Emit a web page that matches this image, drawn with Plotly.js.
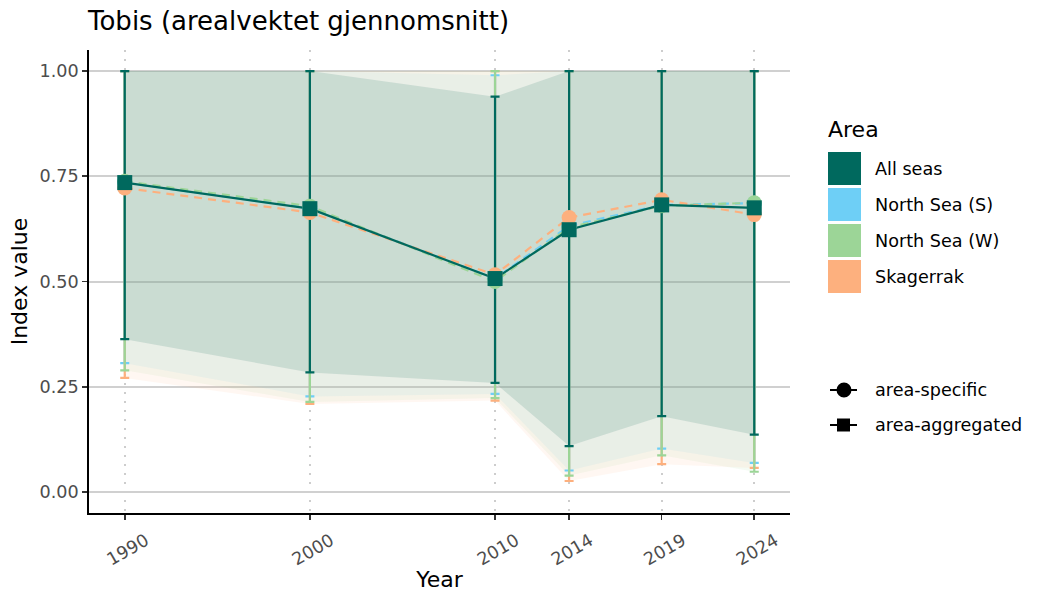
<!DOCTYPE html>
<html>
<head>
<meta charset="utf-8">
<script src="https://cdn.plot.ly/plotly-3.0.1.min.js"></script>
<style>html,body{margin:0;padding:0;background:#fff;}#chart{width:1050px;height:600px;}</style>
</head>
<body>
<div id="chart"></div>
<script>
// ---- Data ----
const years = [1990, 2000, 2010, 2014, 2019, 2024];
const xTickText = ['1990', '2000', '2010', '2014', '2019', '2024'];
const yTickVals = [0, 0.25, 0.5, 0.75, 1];
const yTickText = ['0.00', '0.25', '0.50', '0.75', '1.00'];

const areaNames = ['All seas', 'North Sea (S)', 'North Sea (W)', 'Skagerrak'];
const shapeNames = ['area-specific', 'area-aggregated'];

const allVal = [0.735, 0.673, 0.507, 0.623, 0.682, 0.675];
const allLo  = [0.363, 0.284, 0.259, 0.109, 0.180, 0.136];
const allHi  = [1.000, 1.000, 0.939, 1.000, 1.000, 1.000];

const sVal = [0.735, 0.674, 0.507, 0.632, 0.682, 0.686];
const sLo  = [0.306, 0.227, 0.233, 0.051, 0.103, 0.069];
const sHi  = [1.000, 1.000, 0.990, 1.000, 1.000, 1.000];

const wVal = [0.738, 0.679, 0.500, 0.628, 0.680, 0.687];
const wLo  = [0.289, 0.214, 0.223, 0.039, 0.087, 0.048];
const wHi  = [1.000, 1.000, 1.000, 1.000, 1.000, 1.000];

const kVal = [0.722, 0.664, 0.516, 0.652, 0.694, 0.659];
const kLo  = [0.271, 0.209, 0.217, 0.026, 0.066, 0.057];
const kHi  = [1.000, 1.000, 1.000, 1.000, 1.000, 1.000];

// ---- Styles ----
const COL = {all: '#00695E', s: '#6ECFF6', w: '#9CD597', k: '#FDB07E'};
const FILL = {all: 'rgba(0,100,94,0.17)', s: 'rgba(110,207,246,0.10)', w: 'rgba(156,213,151,0.10)', k: 'rgba(253,176,126,0.10)'};
const FONT = 'DejaVu Sans';

const series = {
  all: {val: allVal, lo: allLo, hi: allHi},
  s: {val: sVal, lo: sLo, hi: sHi},
  w: {val: wVal, lo: wLo, hi: wHi},
  k: {val: kVal, lo: kLo, hi: kHi}
};

const traces = [];
// ribbons
['all', 's', 'w', 'k'].forEach(key => {
  const d = series[key];
  traces.push({x: years, y: d.lo, mode: 'lines', line: {width: 0, color: COL[key]}, showlegend: false, hoverinfo: 'skip'});
  traces.push({x: years, y: d.hi, mode: 'lines', line: {width: 0, color: COL[key]}, fill: 'tonexty', fillcolor: FILL[key], showlegend: false, hoverinfo: 'skip'});
});
// error bars
['s', 'k', 'w', 'all'].forEach(key => {
  const d = series[key];
  traces.push({
    x: years, y: d.val, mode: 'markers', marker: {size: 1, color: 'rgba(0,0,0,0)'},
    showlegend: false, hoverinfo: 'skip',
    error_y: {type: 'data', symmetric: false,
      array: d.hi.map((h, i) => h - d.val[i]),
      arrayminus: d.val.map((v, i) => v - d.lo[i]),
      color: COL[key], thickness: 2.2, width: 4.5}
  });
});
// lines
['s', 'w', 'k'].forEach(key => {
  traces.push({x: years, y: series[key].val, mode: 'lines', line: {color: COL[key], width: 2.2, dash: '8px,6px'}, showlegend: false, hoverinfo: 'skip'});
});
traces.push({x: years, y: allVal, mode: 'lines', line: {color: COL.all, width: 2.2}, showlegend: false, hoverinfo: 'skip'});
// points
['s', 'w', 'k'].forEach(key => {
  traces.push({x: years, y: series[key].val, mode: 'markers', marker: {symbol: 'circle', size: 15, color: COL[key], line: {width: 0}}, showlegend: false});
});
traces.push({x: years, y: allVal, mode: 'markers', marker: {symbol: 'square', size: 15, color: COL.all, line: {width: 0}}, showlegend: false});

// ---- Manual legend (pixel -> paper) ----
const L = 89, R = 790, T = 50, B = 513;
const px = x => (x - L) / (R - L);
const py = y => (B - y) / (B - T);

const shapes = [];
const annotations = [];
annotations.push({xref: 'paper', yref: 'paper', x: px(826), y: py(129), xanchor: 'left', yanchor: 'middle', text: 'Area', showarrow: false, font: {family: FONT, size: 22, color: '#000'}});
const keyCols = [COL.all, COL.s, COL.w, COL.k];
areaNames.forEach((name, i) => {
  const top = 152 + i * 36;
  shapes.push({type: 'rect', xref: 'paper', yref: 'paper', x0: px(828), x1: px(861), y0: py(top + 33), y1: py(top), fillcolor: keyCols[i], line: {width: 0}});
  annotations.push({xref: 'paper', yref: 'paper', x: px(873), y: py(top + 16.5), xanchor: 'left', yanchor: 'middle', text: name, showarrow: false, font: {family: FONT, size: 17.6, color: '#000'}});
});
shapeNames.forEach((name, i) => {
  const cy = 390 + i * 35;
  shapes.push({type: 'line', xref: 'paper', yref: 'paper', x0: px(830), x1: px(857), y0: py(cy), y1: py(cy), line: {color: '#000', width: 2}});
  if (i === 0) {
    shapes.push({type: 'circle', xref: 'paper', yref: 'paper', x0: px(836.5), x1: px(851.5), y0: py(cy + 7.5), y1: py(cy - 7.5), fillcolor: '#000', line: {width: 0}});
  } else {
    shapes.push({type: 'rect', xref: 'paper', yref: 'paper', x0: px(837), x1: px(850), y0: py(cy + 6.5), y1: py(cy - 6.5), fillcolor: '#000', line: {width: 0}});
  }
  annotations.push({xref: 'paper', yref: 'paper', x: px(873), y: py(cy), xanchor: 'left', yanchor: 'middle', text: name, showarrow: false, font: {family: FONT, size: 17.6, color: '#000'}});
});

const layout = {
  width: 1050, height: 600,
  margin: {l: L, r: 1050 - R, t: T, b: 600 - B, pad: 0},
  paper_bgcolor: '#fff', plot_bgcolor: '#fff',
  font: {family: FONT, color: '#000'},
  showlegend: false,
  title: {text: 'Tobis (arealvektet gjennomsnitt)', xref: 'container', yref: 'container', x: 88 / 1050, xanchor: 'left', y: 1 - 21 / 600, yanchor: 'middle', font: {family: FONT, size: 26, color: '#000'}},
  xaxis: {
    range: [1988.07, 2025.93], tickmode: 'array', tickvals: years, ticktext: xTickText,
    tickangle: -30, ticklabelshift: 21, ticklabelstandoff: 4,
    tickfont: {family: FONT, size: 17.6, color: '#4D4D4D'},
    showgrid: true, gridcolor: '#CDCDCD', gridwidth: 1.8, griddash: '2px,7px',
    zeroline: false, showline: true, linecolor: '#000', linewidth: 1.8,
    ticks: 'outside', ticklen: 5, tickwidth: 1.6, tickcolor: '#333',
    title: {text: 'Year', font: {family: FONT, size: 22, color: '#000'}, standoff: 3},
    automargin: false
  },
  yaxis: {
    range: [-0.05, 1.05], tickmode: 'array', tickvals: yTickVals, ticktext: yTickText,
    tickfont: {family: FONT, size: 17.6, color: '#4D4D4D'},
    showgrid: true, gridcolor: '#D0D0D0', gridwidth: 2,
    zeroline: false, showline: true, linecolor: '#000', linewidth: 1.8,
    ticks: 'outside', ticklen: 5, tickwidth: 1.6, tickcolor: '#333',
    title: {text: 'Index value', font: {family: FONT, size: 22, color: '#000'}, standoff: 6},
    automargin: false
  },
  shapes: shapes,
  annotations: annotations
};

Plotly.newPlot('chart', traces, layout, {displayModeBar: false, staticPlot: true});
</script>
</body>
</html>
